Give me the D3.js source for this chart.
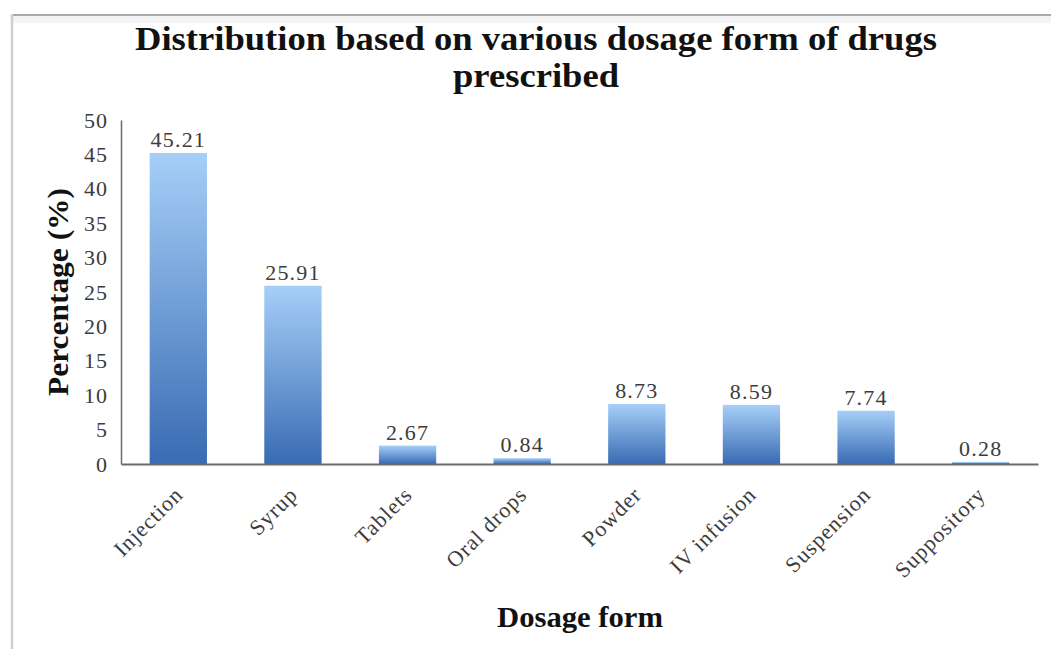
<!DOCTYPE html>
<html>
<head>
<meta charset="utf-8">
<script src="https://cdn.jsdelivr.net/npm/d3@7"></script>
<style>
  html, body { margin: 0; padding: 0; background: #fff; }
  svg { display: block; }
</style>
</head>
<body>
<svg id="chart" width="1051" height="649"></svg>
<script>
// Dosage forms and their share of prescriptions (%)
const categories = ["Injection", "Syrup", "Tablets", "Oral drops", "Powder", "IV infusion", "Suspension", "Suppository"];
const percentages = [45.21, 25.91, 2.67, 0.84, 8.73, 8.59, 7.74, 0.28];
const yTicks = [0, 5, 10, 15, 20, 25, 30, 35, 40, 45, 50];
const titleLines = ["Distribution based on various dosage form of drugs", "prescribed"];
const titleWidths = [802, 166];

const W = 1051, H = 649;
const margin = { left: 121, right: 13, top: 120, bottom: 185 };
const svg = d3.select("#chart");
const serif = "'Liberation Serif', 'DejaVu Serif', serif";

// frame of the chart area
svg.append("rect").attr("x", 11).attr("y", 16).attr("width", W - 11).attr("height", 7)
  .attr("fill", "#f4f4f4");
svg.append("line").attr("x1", 11).attr("x2", W).attr("y1", 15).attr("y2", 15)
  .attr("stroke", "#a9a9a9").attr("stroke-width", 2);
svg.append("line").attr("x1", 12).attr("x2", 12).attr("y1", 14).attr("y2", H)
  .attr("stroke", "#cfcfcf").attr("stroke-width", 2.5);

const x = d3.scaleBand().domain(categories)
  .range([margin.left, W - margin.right]).paddingInner(0.5).paddingOuter(0.25);
const y = d3.scaleLinear().domain([0, 50]).range([H - margin.bottom, margin.top]);

// bar gradient: light blue on top, deeper blue at the base
const defs = svg.append("defs");
const grad = defs.append("linearGradient").attr("id", "barFill")
  .attr("x1", 0).attr("y1", 0).attr("x2", 0).attr("y2", 1);
grad.append("stop").attr("offset", "0%").attr("stop-color", "#a6cff8");
grad.append("stop").attr("offset", "100%").attr("stop-color", "#396bb3");

// title
svg.append("g").selectAll("text").data(titleLines).join("text")
  .attr("x", 536).attr("y", (d, i) => 50 + i * 37)
  .attr("text-anchor", "middle")
  .attr("font-family", serif).attr("font-weight", "bold").attr("font-size", 34)
  .attr("textLength", (d, i) => titleWidths[i]).attr("lengthAdjust", "spacingAndGlyphs")
  .attr("fill", "#111")
  .text(d => d);

// y axis
const yAxis = svg.append("g").attr("transform", `translate(${margin.left},0)`)
  .call(d3.axisLeft(y).tickValues(yTicks).tickSize(0).tickPadding(13));
yAxis.select(".domain").attr("stroke", "#6b6b6b").attr("stroke-width", 1.5);
yAxis.selectAll("text").attr("font-family", serif).attr("font-size", 22)
  .attr("letter-spacing", 1).attr("fill", "#3c3c3c");

// bars
svg.append("g").selectAll("rect").data(percentages).join("rect")
  .attr("x", (d, i) => x(categories[i]))
  .attr("y", d => y(d))
  .attr("width", x.bandwidth())
  .attr("height", d => y(0) - y(d))
  .attr("fill", "url(#barFill)");

// value labels
svg.append("g").selectAll("text").data(percentages).join("text")
  .attr("x", (d, i) => x(categories[i]) + x.bandwidth() / 2)
  .attr("y", d => y(d) - 6)
  .attr("text-anchor", "middle")
  .attr("font-family", serif).attr("font-size", 22).attr("letter-spacing", 1.2)
  .attr("fill", "#3c3c3c")
  .text(d => d.toFixed(2));

// x axis
const xAxis = svg.append("g").attr("transform", `translate(0,${y(0)})`)
  .call(d3.axisBottom(x).tickSize(0).tickSizeOuter(0));
xAxis.select(".domain").attr("stroke", "#6b6b6b").attr("stroke-width", 2);
xAxis.selectAll("text")
  .attr("font-family", serif).attr("font-size", 22).attr("letter-spacing", 1)
  .attr("fill", "#3c3c3c")
  .attr("text-anchor", "end")
  .attr("dy", null).attr("y", 0)
  .attr("transform", "translate(6,32) rotate(-45)");

// axis titles
svg.append("text")
  .attr("transform", "translate(68,292) rotate(-90)")
  .attr("text-anchor", "middle")
  .attr("font-family", serif).attr("font-weight", "bold").attr("font-size", 29)
  .attr("textLength", 208).attr("lengthAdjust", "spacingAndGlyphs")
  .attr("fill", "#111")
  .text("Percentage (%)");
svg.append("text")
  .attr("x", 580).attr("y", 627)
  .attr("text-anchor", "middle")
  .attr("font-family", serif).attr("font-weight", "bold").attr("font-size", 29)
  .attr("textLength", 166).attr("lengthAdjust", "spacingAndGlyphs")
  .attr("fill", "#111")
  .text("Dosage form");
</script>
</body>
</html>
